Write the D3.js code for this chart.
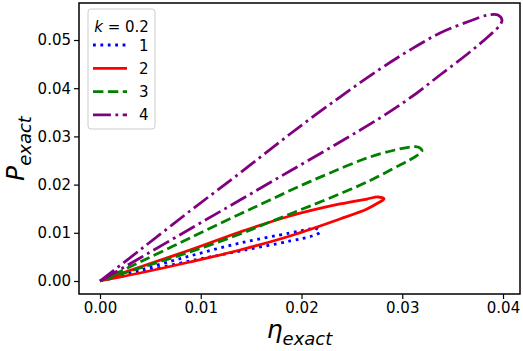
<!DOCTYPE html>
<html>
<head>
<meta charset="utf-8">
<script src="https://cdn.jsdelivr.net/npm/d3@7"></script>
<style>
  body { margin: 0; background: #fff; }
  svg { display: block; font-family: "DejaVu Sans", sans-serif; }
</style>
</head>
<body>
<div id="content"></div>
<script>
// datas: each loop starts and ends at the origin, [eta, P]
const loop1 = [[0,0],[0.00397,0.00228],[0.00893,0.00519],[0.01390,0.00788],[0.01886,0.00996],[0.02084,0.01079],
  [0.02134,0.01100],[0.02184,0.01017],[0.02104,0.00934],[0.01886,0.00830],[0.01390,0.00622],[0.00893,0.00415],
  [0.00397,0.00187],[0,0]];
const loop2 = [[0,0],[0.00397,0.00290],[0.00893,0.00643],[0.01390,0.01017],[0.01886,0.01349],[0.02382,0.01598],
  [0.02650,0.01701],[0.02759,0.01743],[0.02819,0.01701],[0.02759,0.01618],[0.02650,0.01494],[0.02382,0.01286],
  [0.01886,0.00934],[0.01390,0.00643],[0.00893,0.00394],[0.00397,0.00166],[0,0]];
const loop3 = [[0,0],[0.00397,0.00394],[0.00893,0.00892],[0.01390,0.01390],[0.01687,0.01680],[0.01985,0.01971],
  [0.02283,0.02241],[0.02650,0.02552],[0.02928,0.02718],[0.03077,0.02780],[0.03156,0.02780],[0.03196,0.02697],
  [0.03107,0.02552],[0.02978,0.02407],[0.02650,0.02054],[0.02283,0.01722],[0.01985,0.01473],[0.01687,0.01224],
  [0.01390,0.00975],[0.00893,0.00602],[0.00397,0.00270],[0,0]];
const loop4 = [[0,0],[0.00397,0.00643],[0.00893,0.01452],[0.01390,0.02241],[0.01886,0.03050],[0.02382,0.03817],
  [0.02779,0.04398],[0.03077,0.04793],[0.03375,0.05145],[0.03672,0.05394],[0.03851,0.05519],[0.03950,0.05519],
  [0.03990,0.05415],[0.03970,0.05311],[0.03871,0.05104],[0.03672,0.04751],[0.03375,0.04274],[0.03077,0.03797],
  [0.02779,0.03382],[0.02382,0.02884],[0.01886,0.02282],[0.01390,0.01680],[0.00893,0.01079],[0.00397,0.00477],[0,0]];

const labels = ["1", "2", "3", "4"];
const xTicks = [0, 0.01, 0.02, 0.03, 0.04];
const yTicks = [0, 0.01, 0.02, 0.03, 0.04, 0.05];

// styles per curve
const lw = 2.8;
const colors = ["#0000ff", "#ff0000", "#008000", "#800080"];
const dashes = ["2.8,4.6", null, "10.4,4.5", "17.9,4.5,2.8,4.5"];

// view
const w = 523;
const h = 351;
const m = {left: 79, right: 3, top: 3, bottom: 57};

const svg = d3.select("#content")
  .append("svg")
  .attr("width", w)
  .attr("height", h);

const x = d3.scaleLinear().domain([-0.002084, 0.041687]).range([m.left, w - m.right]);
const y = d3.scaleLinear().domain([-0.002697, 0.057676]).range([h - m.bottom, m.top]);

// axes
const xAxis = svg.append("g")
  .attr("transform", `translate(0,${h - m.bottom})`)
  .call(d3.axisBottom(x).tickValues(xTicks).tickFormat(d3.format(".2f")).tickSize(5).tickPadding(3));
const yAxis = svg.append("g")
  .attr("transform", `translate(${m.left},0)`)
  .call(d3.axisLeft(y).tickValues(yTicks).tickFormat(d3.format(".2f")).tickSize(5).tickPadding(3));

[xAxis, yAxis].forEach(g => {
  g.select(".domain").remove();
  g.selectAll(".tick line").attr("stroke", "#000").attr("stroke-width", 1.2);
  g.selectAll(".tick text").attr("fill", "#000").style("font-size", "15px").style("font-family", "DejaVu Sans");
});

// lines
const line = d3.line()
  .x(d => x(d[0]))
  .y(d => y(d[1]))
  .curve(d3.curveCatmullRom.alpha(0.5));

const loops = [loop1, loop2, loop3, loop4];
svg.selectAll("path.loop")
  .data(loops)
  .enter()
  .append("path")
  .attr("class", "loop")
  .attr("d", line)
  .attr("fill", "none")
  .attr("stroke", (d, i) => colors[i])
  .attr("stroke-width", lw)
  .attr("stroke-dasharray", (d, i) => dashes[i]);

// frame
svg.append("rect")
  .attr("x", m.left)
  .attr("y", m.top)
  .attr("width", w - m.left - m.right)
  .attr("height", h - m.top - m.bottom)
  .attr("fill", "none")
  .attr("stroke", "#000")
  .attr("stroke-width", 1.5);

// legend
const lg = svg.append("g").attr("transform", "translate(88,9)");
lg.append("rect")
  .attr("width", 67)
  .attr("height", 120)
  .attr("rx", 3)
  .attr("fill", "#fff")
  .attr("fill-opacity", 0.8)
  .attr("stroke", "#cccccc")
  .attr("stroke-width", 1);

const title = lg.append("text")
  .attr("x", 33.5)
  .attr("y", 23)
  .attr("text-anchor", "middle")
  .style("font-size", "15px");
title.append("tspan").attr("font-style", "italic").text("k");
title.append("tspan").text(" = 0.2");

const rows = lg.selectAll("g.row")
  .data(labels)
  .enter()
  .append("g")
  .attr("class", "row")
  .attr("transform", (d, i) => `translate(0,${36 + i * 23.3})`);
rows.append("line")
  .attr("x1", 5).attr("x2", 39)
  .attr("stroke", (d, i) => colors[i])
  .attr("stroke-width", lw)
  .attr("stroke-dasharray", (d, i) => dashes[i]);
rows.append("text")
  .attr("x", 51)
  .attr("y", 5.5)
  .style("font-size", "15px")
  .text(d => d);

// axis labels
const xl = svg.append("text")
  .attr("x", (m.left + w - m.right) / 2)
  .attr("y", 338)
  .attr("text-anchor", "middle")
  .style("font-style", "italic")
  .style("font-size", "25px");
xl.append("tspan").text("η");
xl.append("tspan").attr("dy", 7).style("font-size", "18px").text("exact");

const yl = svg.append("text")
  .attr("transform", `translate(24,${(m.top + h - m.bottom) / 2}) rotate(-90)`)
  .attr("text-anchor", "middle")
  .style("font-style", "italic")
  .style("font-size", "25px");
yl.append("tspan").text("P");
yl.append("tspan").attr("dy", 7).style("font-size", "18px").text("exact");
</script>
</body>
</html>
